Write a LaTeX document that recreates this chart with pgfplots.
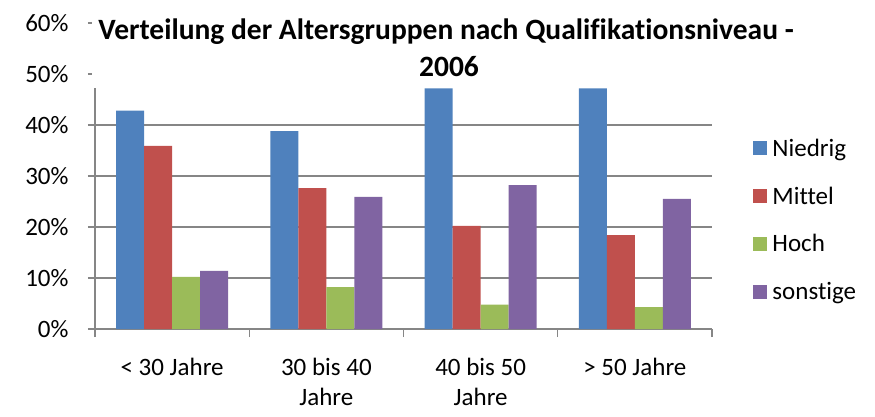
\documentclass[border=0pt]{standalone}
\usepackage{pgfplots}
\pgfplotsset{compat=1.18}
\usepackage{fontspec}
\setmainfont{Carlito}[Ligatures={NoCommon}]
\definecolor{cblue}{HTML}{4F81BD}
\definecolor{cred}{HTML}{C0504D}
\definecolor{cgreen}{HTML}{9BBB59}
\definecolor{cpurple}{HTML}{8064A2}
\definecolor{cgrid}{HTML}{868686}
\begin{document}
\begin{tikzpicture}[x=1pt,y=1pt]
\useasboundingbox (0,0) rectangle (875,416);
\begin{axis}[
  at={(95pt,87pt)}, anchor=south west,
  scale only axis, width=617pt, height=306pt,
  ybar=0pt, bar width=28pt,
  xmin=-0.5, xmax=3.5, ymin=0, ymax=60,
  xtick={0,1,2,3},
  xticklabels={{< 30 Jahre},{30 bis 40\\Jahre},{40 bis 50\\Jahre},{> 50 Jahre}},
  xticklabel style={align=center, font=\fontsize{25}{30}\selectfont, yshift=-19pt},
  minor xtick={-0.5,0.5,1.5,2.5,3.5},
  ytick={0,10,...,60},
  yticklabel={\pgfmathprintnumber{\tick}\%},
  yticklabel style={font=\fontsize{25}{30}\selectfont, xshift=-16pt},
  /pgf/number format/assume math mode=true,
  axis x line*=bottom, axis y line*=left,
  axis line style={cgrid, line width=1.2pt},
  tick align=outside,
  major x tick style={draw=none},
  minor x tick style={cgrid, line width=1.2pt},
  minor tick length=8pt,
  major tick length=7pt,
  ytick style={cgrid, line width=1.2pt},
  ymajorgrids, grid style={cgrid, line width=1.2pt},
  legend style={at={(1.062,0.635)}, anchor=north west, draw=none, fill=none,
    font=\fontsize{25}{30}\selectfont, row sep=25pt,
    legend cell align=left, nodes={inner xsep=5pt}},
  legend image code/.code={\fill[#1] (0pt,-7pt) rectangle (14pt,7pt);},
  clip=false,
]
\addplot[fill=cblue, draw=none] coordinates {(0,42.8) (1,38.8) (2,47.2) (3,47.2)};
\addplot[fill=cred, draw=none] coordinates {(0,35.9) (1,27.6) (2,20.2) (3,18.4)};
\addplot[fill=cgreen, draw=none] coordinates {(0,10.2) (1,8.2) (2,4.8) (3,4.3)};
\addplot[fill=cpurple, draw=none] coordinates {(0,11.4) (1,25.9) (2,28.2) (3,25.5)};
\legend{Niedrig, Mittel, Hoch, sonstige}
\end{axis}
\fill[white] (92,328) rectangle (800,416);
\node[anchor=base, font=\fontsize{29.5}{34}\selectfont\bfseries] at (446,376) {Verteilung der Altersgruppen nach Qualifikationsniveau -};
\node[anchor=base, font=\fontsize{29.5}{34}\selectfont\bfseries] at (449,340) {2006};
\end{tikzpicture}
\end{document}
